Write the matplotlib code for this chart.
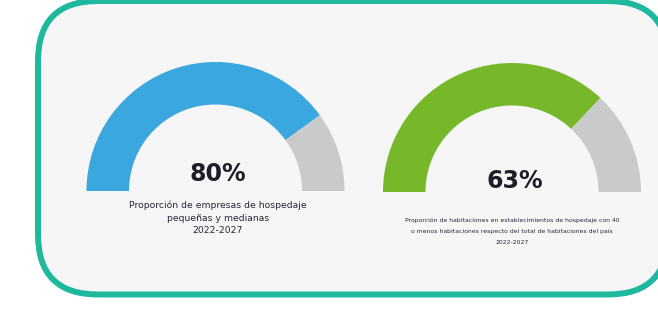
import matplotlib
matplotlib.use("Agg")
import matplotlib.pyplot as plt
from matplotlib.patches import Wedge, FancyBboxPatch

# ---- data ----
labels = ["80%", "63%"]
arc_share = [80, 74]          # share of the half ring drawn in colour (as drawn)
captions = [
    "Proporción de empresas de hospedaje\npequeñas y medianas\n2022-2027",
    "Proporción de habitaciones en establecimientos de hospedaje con 40\no menos habitaciones respecto del total de habitaciones del país\n2022-2027",
]
fill_colors = ["#3AA8DF", "#77B82A"]
rest_color = "#C8CACC"

W, H = 658, 309
fig = plt.figure(figsize=(W / 100, H / 100), dpi=100)
ax = fig.add_axes([0, 0, 1, 1])
ax.set_xlim(0, W)
ax.set_ylim(0, H)
ax.axis("off")
fig.patch.set_facecolor("white")

def Y(ypx):
    return H - ypx

# frame
frame = FancyBboxPatch((38, Y(294.5)), 668 - 38, 294.5 - 1,
                       boxstyle="round,pad=0,rounding_size=60",
                       facecolor="#F6F6F6", edgecolor="#1DB89E", linewidth=4.3)
ax.add_patch(frame)

centers = [(215.5, 191), (512, 192)]
R, r = 129, 86.5
pct_pos = [(218, 174), (515, 181)]
cap_pos = [(218, 218), (512, 231)]
cap_size = [6.7, 4.4]
cap_lsp = [1.5, 2.3]

for i in range(2):
    cx, cy = centers[i]
    split = 180 - arc_share[i] / 100 * 180
    ax.add_patch(Wedge((cx, Y(cy)), R, split, 180, width=R - r,
                       facecolor=fill_colors[i], edgecolor="none"))
    ax.add_patch(Wedge((cx, Y(cy)), R, 0, split, width=R - r,
                       facecolor=rest_color, edgecolor="none"))
    px, py = pct_pos[i]
    ax.text(px, Y(py), labels[i], ha="center", va="center",
            fontsize=17, fontweight="bold", color="#1E1E28",
            family="DejaVu Sans")
    qx, qy = cap_pos[i]
    ax.text(qx, Y(qy), captions[i], ha="center", va="center",
            fontsize=cap_size[i], color="#2A2438", family="DejaVu Sans",
            linespacing=cap_lsp[i], multialignment="center")

fig.savefig("out.png", dpi=100, facecolor="white")
